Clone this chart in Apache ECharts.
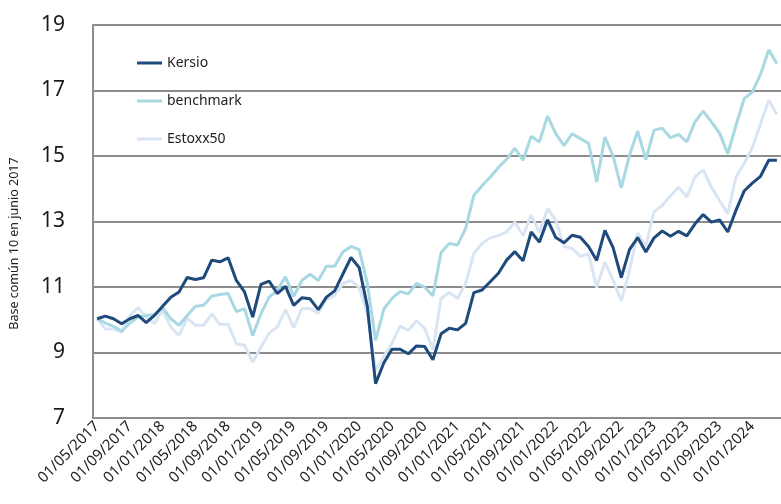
<!DOCTYPE html>
<html>
<head>
<meta charset="utf-8">
<script src="https://cdn.jsdelivr.net/npm/echarts@6/dist/echarts.min.js"></script>
<style>
  html, body { margin: 0; padding: 0; background: #fff; }
  #chart { width: 781px; height: 504px; }
</style>
</head>
<body>
<div id="chart"></div>
<script>
// meses, de 05/2017 a 04/2024
const months = [];
for (let y = 2017, m = 5; months.length < 84; m++) {
  if (m > 12) { m = 1; y++; }
  months.push('01/' + String(m).padStart(2, '0') + '/' + y);
}

const kersio = [
  10.03, 10.11, 10.03, 9.88, 10.03, 10.13, 9.91, 10.13, 10.41, 10.69, 10.85, 11.29,
  11.23, 11.28, 11.82, 11.77, 11.89, 11.2, 10.85, 10.08, 11.08, 11.18, 10.8, 11.02,
  10.44, 10.67, 10.64, 10.31, 10.69, 10.88, 11.39, 11.9, 11.59, 10.4, 8.05, 8.68,
  9.1, 9.1, 8.96, 9.2, 9.18, 8.78, 9.57, 9.74, 9.69, 9.89, 10.83, 10.91,
  11.16, 11.42, 11.82, 12.08, 11.8, 12.68, 12.37, 13.05, 12.51, 12.35, 12.58, 12.52,
  12.24, 11.81, 12.73, 12.2, 11.29, 12.14, 12.51, 12.07, 12.5, 12.71, 12.55, 12.7,
  12.56, 12.93, 13.21, 12.98, 13.05, 12.68, 13.34, 13.93, 14.17, 14.38, 14.87, 14.87
];

const benchmark = [
  10.03, 9.9, 9.8, 9.65, 9.9, 10.08, 10.13, 10.16, 10.37, 10.03, 9.83, 10.13,
  10.41, 10.44, 10.72, 10.77, 10.8, 10.25, 10.34, 9.52, 10.18, 10.69, 10.9, 11.31,
  10.71, 11.2, 11.39, 11.2, 11.63, 11.63, 12.07, 12.24, 12.14, 11.1, 9.37, 10.32,
  10.65, 10.86, 10.79, 11.11, 10.99, 10.73, 12.05, 12.33, 12.28, 12.79, 13.8, 14.09,
  14.35, 14.65, 14.9, 15.24, 14.87, 15.6, 15.43, 16.22, 15.68, 15.32, 15.68, 15.53,
  15.39, 14.21, 15.58, 15.0, 14.03, 15.02, 15.76, 14.89, 15.79, 15.85, 15.56, 15.66,
  15.43, 16.04, 16.37, 16.04, 15.7, 15.07, 15.93, 16.75, 16.95, 17.49, 18.24, 17.82
];

const estoxx50 = [
  10.03, 9.72, 9.72, 9.62, 10.13, 10.37, 10.08, 9.88, 10.29, 9.78, 9.52, 10.06,
  9.83, 9.83, 10.18, 9.86, 9.86, 9.27, 9.22, 8.71, 9.16, 9.59, 9.78, 10.31,
  9.76, 10.34, 10.34, 10.2, 10.61, 10.74, 11.1, 11.2, 10.98, 10.18, 8.45, 8.88,
  9.28, 9.81, 9.67, 9.97, 9.74, 9.08, 10.65, 10.83, 10.65, 11.11, 12.03, 12.33,
  12.5, 12.57, 12.68, 12.98, 12.57, 13.2, 12.67, 13.39, 13.04, 12.24, 12.18, 11.93,
  12.01, 10.98, 11.76, 11.21, 10.58, 11.5, 12.65, 12.24, 13.3, 13.49, 13.78, 14.05,
  13.75, 14.36, 14.58, 14.05, 13.64, 13.24, 14.36, 14.78, 15.25, 15.98, 16.7, 16.27
];

const chart = echarts.init(document.getElementById('chart'));

const font = 'Noto Sans';
const gris = '#8c8c8c';

chart.setOption({
  animation: false,
  textStyle: { fontFamily: font },
  grid: { left: 92, right: 0, top: 25, bottom: 86 },
  legend: {
    orient: 'vertical',
    left: 137,
    top: 56,
    padding: 0,
    icon: 'rect',
    itemWidth: 25,
    itemHeight: 3,
    itemGap: 24,
    data: ['Kersio', 'benchmark', 'Estoxx50'],
    textStyle: { color: '#222', fontSize: 14, fontFamily: font }
  },
  xAxis: {
    type: 'category',
    data: months,
    boundaryGap: true,
    axisLine: { lineStyle: { color: gris, width: 2 } },
    axisTick: { inside: true, length: 5, interval: 3, lineStyle: { color: gris, width: 1.5 } },
    axisLabel: { interval: 3, rotate: 45, fontSize: 15, color: '#222', margin: 6 },
    splitLine: { show: false }
  },
  yAxis: {
    type: 'value',
    min: 7,
    max: 19,
    interval: 2,
    name: 'Base común 10 en junio 2017',
    nameLocation: 'middle',
    nameGap: 72,
    nameTextStyle: { fontSize: 12.5, color: '#222', padding: [0, 44, 0, 0] },
    axisLine: { show: true, lineStyle: { color: gris, width: 2 } },
    axisTick: { show: false },
    axisLabel: { fontSize: 21, color: '#1a1a1a', margin: 28 },
    splitLine: { lineStyle: { color: gris, width: 2 } }
  },
  series: [
    {
      name: 'Estoxx50', type: 'line', data: estoxx50, symbol: 'none', z: 2,
      lineStyle: { color: '#d9e5f3', width: 3 }, itemStyle: { color: '#d9e5f3' }
    },
    {
      name: 'benchmark', type: 'line', data: benchmark, symbol: 'none', z: 3,
      lineStyle: { color: '#a8d9e3', width: 3 }, itemStyle: { color: '#a8d9e3' }
    },
    {
      name: 'Kersio', type: 'line', data: kersio, symbol: 'none', z: 4,
      lineStyle: { color: '#1f4a7c', width: 3 }, itemStyle: { color: '#1f4a7c' }
    }
  ]
});
</script>
</body>
</html>
